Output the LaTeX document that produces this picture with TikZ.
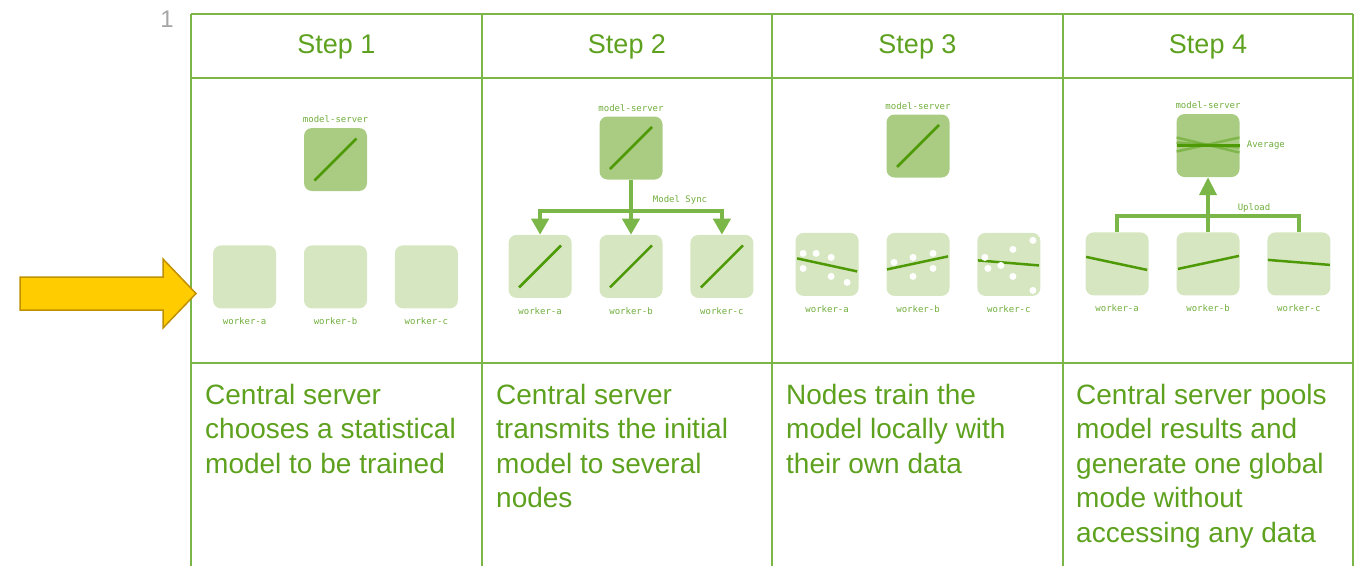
\documentclass[tikz,border=0pt]{standalone}
\usepackage{fontspec}
\setmainfont{Liberation Sans}
\newfontfamily\tagfont{DejaVu Sans Mono}
\usetikzlibrary{arrows.meta, positioning}

\definecolor{gridgreen}{RGB}{122,182,72}
\definecolor{txtgreen}{RGB}{94,161,31}
\definecolor{srvfill}{RGB}{169,204,130}
\definecolor{wrkfill}{RGB}{213,230,192}
\definecolor{fitgreen}{RGB}{78,154,6}
\definecolor{taggreen}{RGB}{112,174,60}
\definecolor{arrowyellow}{RGB}{255,204,0}
\definecolor{arrowgold}{RGB}{191,144,0}

\begin{document}
\begin{tikzpicture}[
    x=1pt, y=-1pt,
    node distance=55pt and 27.5pt,
    cell/.style={draw=gridgreen, line width=2pt},
    srv/.style={fill=srvfill, rounded corners=8pt, minimum size=63pt, inner sep=0pt},
    wrk/.style={fill=wrkfill, rounded corners=8pt, minimum size=63pt, inner sep=0pt},
    tag/.style={font=\tagfont\fontsize{9}{10}\selectfont, text=taggreen, inner sep=0pt},
    fitline/.style={draw=fitgreen, line width=2.5pt},
    flow/.style={draw=gridgreen, line width=4pt, -{Triangle[length=16pt, width=17pt]}},
    bar/.style={draw=gridgreen, line width=4pt},
    head/.style={font=\fontsize{27}{32}\selectfont, text=txtgreen},
    body/.style={font=\fontsize{28}{34.5}\selectfont, text=txtgreen, align=left, anchor=north west, inner sep=0pt}
]
\useasboundingbox (0,0) rectangle (1358,566);

% --- Table ---
\draw[cell] (191,13.5) -- (1353,13.5);
\draw[cell] (191,78) -- (1353,78);
\draw[cell] (191,363) -- (1353,363);
\foreach \x in {191,482,772,1063,1353}
  \draw[cell] (\x,13.5) -- (\x,566);

\node[font=\fontsize{24}{28}\selectfont, text=black!35] (pagenum) at (167,19) {1};

\node[head] (h1) at (336.5,47) {Step 1};
\node[head] (h2) at (627,47) {Step 2};
\node[head] (h3) at (917.5,47) {Step 3};
\node[head] (h4) at (1208,47) {Step 4};

% Pointer arrow
\draw[fill=arrowyellow, draw=arrowgold, line width=1.5pt]
  (20,277) -- (163,277) -- (163,259) -- (196,293.5) -- (163,328) -- (163,310) -- (20,310) -- cycle;

% --- Step 1 ---
\node[srv] (s1srv) at (335.5,159.5) {};
\node[tag, above=4.5pt of s1srv] (s1srvtag) {model-server};
\node[wrk, below=54pt of s1srv] (s1b) {};
\node[wrk, left=of s1b] (s1a) {};
\node[wrk, right=of s1b] (s1c) {};
\node[tag, below=9pt of s1a] (s1atag) {worker-a};
\node[tag, below=9pt of s1b] (s1btag) {worker-b};
\node[tag, below=9pt of s1c] (s1ctag) {worker-c};
\draw[fitline] ([shift={(-21,21)}]s1srv.center) -- ([shift={(21,-21)}]s1srv.center);

% --- Step 2 ---
\node[srv] (s2srv) at (631,148) {};
\node[tag, above=4.5pt of s2srv] (s2srvtag) {model-server};
\node[wrk, below=of s2srv] (s2b) {};
\node[wrk, left=of s2b] (s2a) {};
\node[wrk, right=of s2b] (s2c) {};
\node[tag, below=9pt of s2a] (s2atag) {worker-a};
\node[tag, below=9pt of s2b] (s2btag) {worker-b};
\node[tag, below=9pt of s2c] (s2ctag) {worker-c};
\draw[fitline] ([shift={(-21,21)}]s2srv.center) -- ([shift={(21,-21)}]s2srv.center);
\draw[fitline] ([shift={(-21,21)}]s2a.center) -- ([shift={(21,-21)}]s2a.center);
\draw[fitline] ([shift={(-21,21)}]s2b.center) -- ([shift={(21,-21)}]s2b.center);
\draw[fitline] ([shift={(-21,21)}]s2c.center) -- ([shift={(21,-21)}]s2c.center);

\coordinate (s2bar) at (631,211);
\draw[flow] (s2srv.south) -- (s2b.north);
\draw[flow] (s2bar) -| (s2a.north);
\draw[flow] (s2bar) -| (s2c.north);
\node[tag] (s2sync) at (680,200) {Model Sync};

% --- Step 3 ---
\node[srv] (s3srv) at (918,146) {};
\node[tag, above=4.5pt of s3srv] (s3srvtag) {model-server};
\node[wrk, below=of s3srv] (s3b) {};
\node[wrk, left=of s3b] (s3a) {};
\node[wrk, right=of s3b] (s3c) {};
\node[tag, below=9pt of s3a] (s3atag) {worker-a};
\node[tag, below=9pt of s3b] (s3btag) {worker-b};
\node[tag, below=9pt of s3c] (s3ctag) {worker-c};
\draw[fitline] ([shift={(-21,21)}]s3srv.center) -- ([shift={(21,-21)}]s3srv.center);

\draw[fitline] ([shift={(-30,-6)}]s3a.center) -- ([shift={(30,7)}]s3a.center);
\fill[white] ([shift={(-24,-11)}]s3a.center) circle[radius=3.5pt]
  ([shift={(-11,-11)}]s3a.center) circle[radius=3.5pt]
  ([shift={(4,-7)}]s3a.center) circle[radius=3.5pt]
  ([shift={(-24,4)}]s3a.center) circle[radius=3.5pt]
  ([shift={(4,12)}]s3a.center) circle[radius=3.5pt]
  ([shift={(20,18)}]s3a.center) circle[radius=3.5pt];

\draw[fitline] ([shift={(-31,5)}]s3b.center) -- ([shift={(30,-8)}]s3b.center);
\fill[white] ([shift={(-24,-2)}]s3b.center) circle[radius=3.5pt]
  ([shift={(-5,-7)}]s3b.center) circle[radius=3.5pt]
  ([shift={(15,-11)}]s3b.center) circle[radius=3.5pt]
  ([shift={(-5,12)}]s3b.center) circle[radius=3.5pt]
  ([shift={(15,4)}]s3b.center) circle[radius=3.5pt];

\draw[fitline] ([shift={(-31,-4)}]s3c.center) -- ([shift={(30,1)}]s3c.center);
\fill[white] ([shift={(-24,-7)}]s3c.center) circle[radius=3.5pt]
  ([shift={(-21,4)}]s3c.center) circle[radius=3.5pt]
  ([shift={(-8,1)}]s3c.center) circle[radius=3.5pt]
  ([shift={(4,-15)}]s3c.center) circle[radius=3.5pt]
  ([shift={(4,12)}]s3c.center) circle[radius=3.5pt]
  ([shift={(24,-24)}]s3c.center) circle[radius=3.5pt]
  ([shift={(24,26)}]s3c.center) circle[radius=3.5pt];

% --- Step 4 ---
\node[srv] (s4srv) at (1208,145.5) {};
\node[tag, above=4.5pt of s4srv] (s4srvtag) {model-server};
\node[wrk, below=of s4srv] (s4b) {};
\node[wrk, left=of s4b] (s4a) {};
\node[wrk, right=of s4b] (s4c) {};
\node[tag, below=9pt of s4a] (s4atag) {worker-a};
\node[tag, below=9pt of s4b] (s4btag) {worker-b};
\node[tag, below=9pt of s4c] (s4ctag) {worker-c};

\draw[fitline, opacity=0.45] ([shift={(-31.5,-8)}]s4srv.center) -- ([shift={(31.5,7)}]s4srv.center);
\draw[fitline, opacity=0.45] ([shift={(-31.5,6)}]s4srv.center) -- ([shift={(31.5,-8)}]s4srv.center);
\draw[fitline, opacity=0.45] ([shift={(-31.5,-3)}]s4srv.center) -- ([shift={(31.5,2)}]s4srv.center);
\draw[fitline, line width=3pt] ([shift={(-31.5,0)}]s4srv.center) -- ([shift={(31.5,0)}]s4srv.center);
\node[tag, right=7pt of s4srv] (s4avg) {Average};

\draw[fitline] ([shift={(-31,-7)}]s4a.center) -- ([shift={(30,6)}]s4a.center);
\draw[fitline] ([shift={(-30,5)}]s4b.center) -- ([shift={(31,-8)}]s4b.center);
\draw[fitline] ([shift={(-31,-4)}]s4c.center) -- ([shift={(31,1)}]s4c.center);

\coordinate (s4bar) at (1208,216);
\draw[bar] (s4a.north) |- (s4bar) -| (s4c.north);
\draw[flow, -{Triangle[length=18pt, width=17pt]}] (s4b.north) -- (s4srv.south);
\node[tag] (s4up) at (1254,208) {Upload};

% --- Descriptions ---
\node[body] (t1) at (205,384) {Central server\\chooses a statistical\\model to be trained};
\node[body] (t2) at (496,384) {Central server\\transmits the initial\\model to several\\nodes};
\node[body] (t3) at (786,384) {Nodes train the\\model locally with\\their own data};
\node[body] (t4) at (1076,384) {Central server pools\\model results and\\generate one global\\mode without\\accessing any data};

\end{tikzpicture}
\end{document}
